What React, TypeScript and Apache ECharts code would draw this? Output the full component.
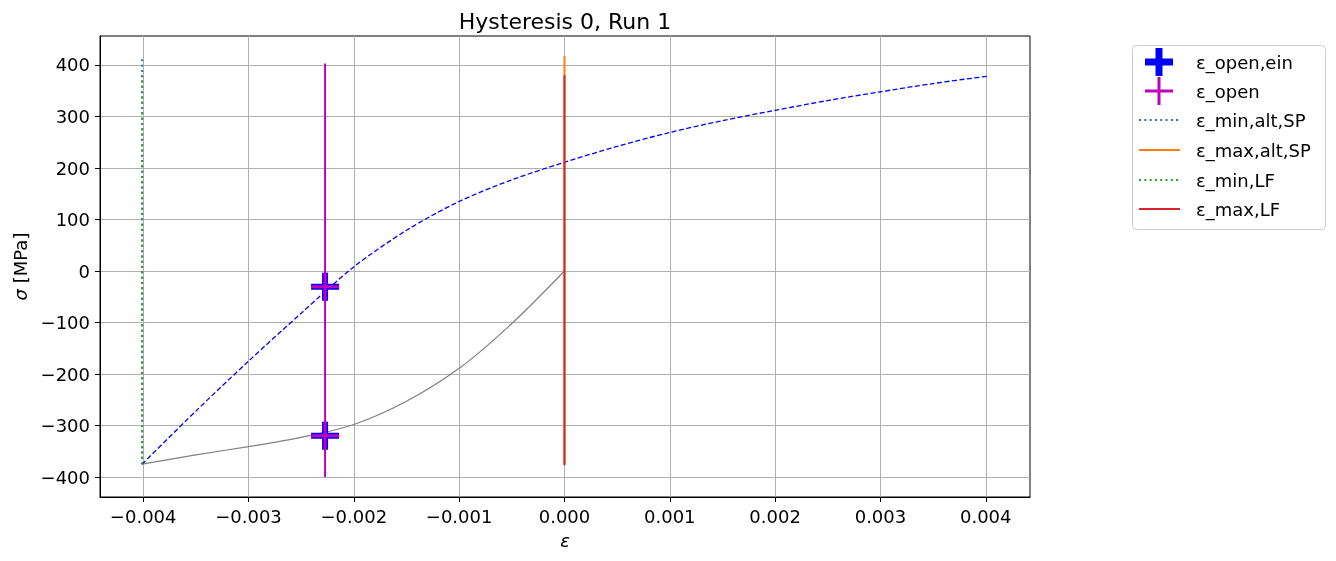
import React, { useEffect, useRef } from "react";
import * as echarts from "echarts";

// ---- data ----
const xTicks = [-0.004, -0.003, -0.002, -0.001, 0, 0.001, 0.002, 0.003, 0.004];
const yTicks = [-400, -300, -200, -100, 0, 100, 200, 300, 400];

// upper (reloading) branch, blue dashed
const upperEps = [-0.00401, -0.0035, -0.003, -0.0025, -0.002, -0.0015, -0.001, -0.0005, 0, 0.0005, 0.001, 0.0015, 0.002, 0.0025, 0.003, 0.0035, 0.00401];
const upperSig = [-375, -272, -175, -82, 8, 79, 135, 177, 211, 242, 269, 292, 312, 331, 348, 364, 378];

// lower branch (first loading), grey
const lowerEps = [-0.00401, -0.0035, -0.003, -0.0025, -0.002, -0.0015, -0.001, -0.0005, 0];
const lowerSig = [-375, -357, -341, -323, -298, -253, -189, -102, 0];

// crack opening points
const openEinEps = [-0.002273, -0.002273];
const openEinSig = [-30.5, -320];
const openEps = [-0.002273, -0.002273];
const openSig = [-30.5, -320];
const openLineEps = -0.002273;
const openLineSig = [-400, 403];

// vertical markers
const epsMinAltSP = -0.00401;
const epsMinAltSPSig = [-375, 415];
const epsMaxAltSP = 0;
const epsMaxAltSPSig = [-375, 417];
const epsMinLF = -0.00401;
const epsMinLFSig = [-375, 384];
const epsMaxLF = 0;
const epsMaxLFSig = [-377, 380];

const legendNames = ["ε_open,ein", "ε_open", "ε_min,alt,SP", "ε_max,alt,SP", "ε_min,LF", "ε_max,LF"];

const FONT = "DejaVu Sans";
const plusThick = "path://M11,0H17V11H28V17H17V28H11V17H0V11H11Z";
const plusThin = "path://M12.5,0H15.5V12.5H28V15.5H15.5V28H12.5V15.5H0V12.5H12.5Z";

const zip = (a: number[], b: number[]) => a.map((v, i) => [v, b[i]]);
const vline = (x: number, ys: number[]) => ys.map((y) => [x, y]);
const minus = (s: string) => s.replace("-", "\u2212");

export default function App() {
  const ref = useRef<HTMLDivElement>(null);
  useEffect(() => {
    if (!ref.current) return;
    const chart = echarts.init(ref.current, undefined, { renderer: "svg" });

    const lx0 = 1139, lx1 = 1180, ltx = 1196;
    const rows = [62, 91, 120, 150, 180, 209];
    const legendGraphics: any[] = [
      {
        type: "rect",
        shape: { x: 1132.5, y: 45.5, width: 193, height: 184, r: 4 },
        style: { fill: "#fff", stroke: "#cccccc", lineWidth: 1 },
        z: 10,
      },
      { type: "rect", shape: { x: 1145, y: rows[0] - 3.5, width: 28, height: 7 }, style: { fill: "#0000ff" }, z: 11 },
      { type: "rect", shape: { x: 1155.5, y: rows[0] - 14, width: 7, height: 28 }, style: { fill: "#0000ff" }, z: 11 },
      { type: "rect", shape: { x: 1145, y: rows[1] - 1.5, width: 28, height: 3 }, style: { fill: "#bf00bf" }, z: 11 },
      { type: "rect", shape: { x: 1157.5, y: rows[1] - 14, width: 3, height: 28 }, style: { fill: "#bf00bf" }, z: 11 },
      { type: "line", shape: { x1: lx0, y1: rows[2], x2: lx1, y2: rows[2] }, style: { stroke: "#1f77b4", lineWidth: 2, lineDash: [2, 3.3] }, z: 11 },
      { type: "line", shape: { x1: lx0, y1: rows[3], x2: lx1, y2: rows[3] }, style: { stroke: "#ff7f0e", lineWidth: 2 }, z: 11 },
      { type: "line", shape: { x1: lx0, y1: rows[4], x2: lx1, y2: rows[4] }, style: { stroke: "#2ca02c", lineWidth: 2, lineDash: [2, 3.3] }, z: 11 },
      { type: "line", shape: { x1: lx0, y1: rows[5], x2: lx1, y2: rows[5] }, style: { stroke: "#d62728", lineWidth: 2 }, z: 11 },
      ...legendNames.map((n, i) => ({
        type: "text",
        x: ltx,
        y: rows[i],
        style: { text: n, font: `18px '${FONT}'`, fill: "#000", textVerticalAlign: "middle", textAlign: "left" },
        z: 11,
      })),
      {
        type: "text",
        x: 565,
        y: 21,
        style: { text: "Hysteresis 0, Run 1", font: `22px '${FONT}'`, fill: "#000", textAlign: "center", textVerticalAlign: "middle" },
        z: 11,
      },
    ];

    const option: any = {
      animation: false,
      textStyle: { fontFamily: FONT },
      grid: { left: 100, top: 36, width: 930, height: 461, show: true, borderColor: "#000", borderWidth: 1, backgroundColor: "transparent" },
      xAxis: {
        type: "value",
        min: -0.00441,
        max: 0.00442,
        name: "ε",
        nameLocation: "middle",
        nameGap: 34,
        nameTextStyle: { fontSize: 18, color: "#000", fontFamily: FONT, fontStyle: "italic" },
        axisLine: { onZero: false, lineStyle: { color: "#000", width: 1 } },
        axisTick: { show: true, length: 5, lineStyle: { color: "#000" }, customValues: xTicks },
        axisLabel: { fontSize: 18, color: "#000", margin: 10, customValues: xTicks, formatter: (v: number) => minus(v.toFixed(3)) },
        splitLine: { show: true, lineStyle: { color: "#b0b0b0", width: 1 } },
      },
      yAxis: {
        type: "value",
        min: -438.8,
        max: 456.3,
        name: "{i|σ} [MPa]",
        nameLocation: "middle",
        nameGap: 70,
        nameTextStyle: { fontSize: 18, color: "#000", fontFamily: FONT, rich: { i: { fontStyle: "italic", fontSize: 18, fontFamily: FONT } } },
        axisLine: { show: true, onZero: false, lineStyle: { color: "#000", width: 1 } },
        axisTick: { show: true, length: 5, lineStyle: { color: "#000" }, customValues: yTicks },
        axisLabel: { fontSize: 18, color: "#000", margin: 10, customValues: yTicks, formatter: (v: number) => minus(String(Math.round(v))) },
        splitLine: { show: true, lineStyle: { color: "#b0b0b0", width: 1 } },
      },
      graphic: legendGraphics,
      series: [
        {
          name: "lower",
          type: "line",
          data: zip(lowerEps, lowerSig),
          symbol: "none",
          smooth: 0.3,
          lineStyle: { color: "#808080", width: 1.2 },
          z: 2,
        },
        {
          name: "upper",
          type: "line",
          data: zip(upperEps, upperSig),
          symbol: "none",
          smooth: 0.3,
          lineStyle: { color: "#0000ff", width: 1.3, type: [5, 2.5] },
          z: 2,
        },
        {
          name: legendNames[2],
          type: "line",
          data: vline(epsMinAltSP, epsMinAltSPSig),
          symbol: "none",
          lineStyle: { color: "#1f77b4", width: 2, type: [2, 3.3] },
          z: 3,
        },
        {
          name: legendNames[3],
          type: "line",
          data: vline(epsMaxAltSP, epsMaxAltSPSig),
          symbol: "none",
          lineStyle: { color: "#ff7f0e", width: 2 },
          z: 3,
        },
        {
          name: legendNames[4],
          type: "line",
          data: vline(epsMinLF, epsMinLFSig),
          symbol: "none",
          lineStyle: { color: "#2ca02c", width: 2, type: [2, 3.3] },
          z: 4,
        },
        {
          name: legendNames[5],
          type: "line",
          data: vline(epsMaxLF, epsMaxLFSig),
          symbol: "none",
          lineStyle: { color: "#d62728", width: 2 },
          z: 4,
        },
        {
          name: legendNames[0],
          type: "scatter",
          data: zip(openEinEps, openEinSig),
          symbol: plusThick,
          symbolSize: 28,
          itemStyle: { color: "#0000ff", opacity: 1 },
          z: 5,
        },
        {
          name: "open line",
          type: "line",
          data: vline(openLineEps, openLineSig),
          symbol: "none",
          lineStyle: { color: "#bf00bf", width: 2 },
          z: 6,
        },
        {
          name: legendNames[1],
          type: "scatter",
          data: zip(openEps, openSig),
          symbol: plusThin,
          symbolSize: 28,
          itemStyle: { color: "#bf00bf", opacity: 1 },
          z: 7,
        },
      ],
    };
    chart.setOption(option);
    return () => chart.dispose();
  }, []);
  return <div ref={ref} style={{ position: "fixed", left: 0, top: 0, width: 1336, height: 561 }} />;
}
